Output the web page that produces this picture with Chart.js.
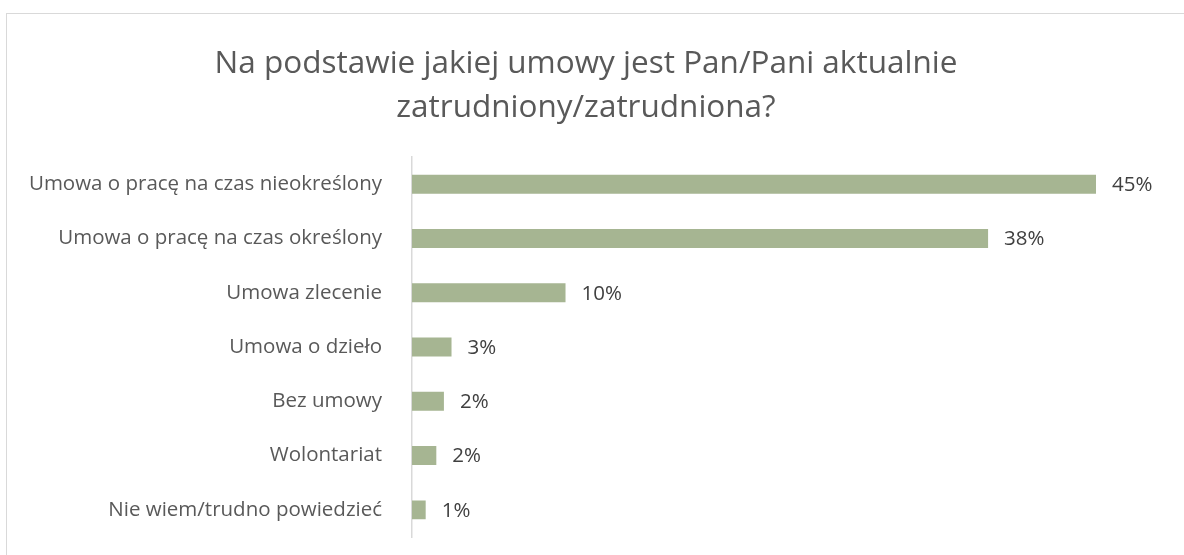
<!DOCTYPE html>
<html>
<head>
<meta charset="utf-8">
<script src="https://cdn.jsdelivr.net/npm/chart.js@4/dist/chart.umd.min.js"></script>
<style>
  html, body { margin: 0; padding: 0; background: #fff; }
  #wrap { position: relative; width: 1184px; height: 555px; overflow: hidden; }
  #frame {
    position: absolute; left: 6px; top: 13px; width: 1300px; height: 600px;
    border: 1.5px solid #d9d9d9; box-sizing: border-box;
  }
  canvas { position: absolute; left: 0; top: 0; }
</style>
</head>
<body>
<div id="wrap">
  <div id="frame"></div>
  <canvas id="chart" width="1184" height="555"></canvas>
</div>
<script>
// --- DATA ---
const categories = [
    'Umowa o pracę na czas nieokreślony',
    'Umowa o pracę na czas określony',
    'Umowa zlecenie',
    'Umowa o dzieło',
    'Bez umowy',
    'Wolontariat',
    'Nie wiem/trudno powiedzieć'
];
const shares = [45.0, 37.9, 10.1, 2.6, 2.1, 1.6, 0.9];
const shareLabels = ['45%', '38%', '10%', '3%', '2%', '2%', '1%'];

const FONT = '"Open Sans", Lato, sans-serif';

// value labels at the end of each bar
const valueLabels = {
    id: 'valueLabels',
    afterDatasetsDraw(chart) {
        const ctx = chart.ctx;
        const meta = chart.getDatasetMeta(0);
        ctx.save();
        ctx.font = '20.5px ' + FONT;
        ctx.fillStyle = '#404040';
        ctx.textBaseline = 'middle';
        ctx.textAlign = 'left';
        meta.data.forEach(function(bar, i) {
            ctx.fillText(shareLabels[i], bar.x + 16, bar.y + 1);
        });
        ctx.restore();
    }
};

new Chart(document.getElementById('chart'), {
    type: 'bar',
    data: {
        labels: categories,
        datasets: [{
            data: shares,
            backgroundColor: '#a6b592',
            borderWidth: 0,
            barPercentage: 0.35,
            categoryPercentage: 1
        }]
    },
    options: {
        indexAxis: 'y',
        responsive: false,
        animation: false,
        layout: { padding: { left: 0, right: 12, top: 0, bottom: 18 } },
        plugins: {
            legend: { display: false },
            tooltip: { enabled: false },
            title: {
                display: true,
                text: ['Na podstawie jakiej umowy jest Pan/Pani aktualnie', 'zatrudniony/zatrudniona?'],
                color: '#595959',
                font: { family: FONT, size: 31.5, weight: 'normal', lineHeight: 1.4 },
                padding: { top: 42, bottom: 27 }
            }
        },
        scales: {
            x: {
                display: false,
                min: 0,
                max: 50
            },
            y: {
                grid: { display: false, drawTicks: false },
                border: { display: true, color: '#d9d9d9', width: 1.5 },
                ticks: {
                    color: '#595959',
                    font: { family: FONT, size: 20.5 },
                    padding: 30
                },
                afterFit(scale) {
                    scale.width = 412;
                    scale.paddingTop = 0;
                    scale.paddingBottom = 0;
                }
            }
        }
    },
    plugins: [valueLabels]
});
</script>
</body>
</html>
